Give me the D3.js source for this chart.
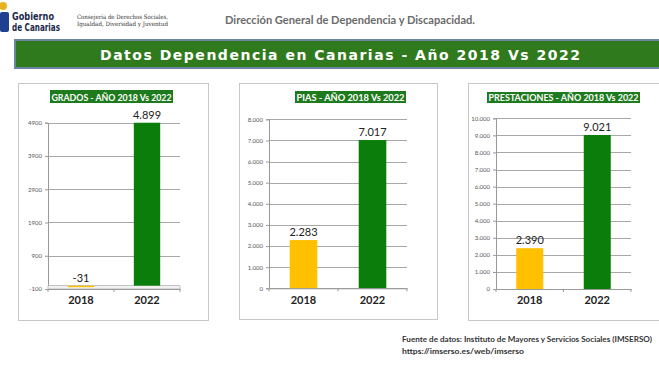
<!DOCTYPE html>
<html>
<head>
<meta charset="utf-8">
<title>Datos Dependencia en Canarias</title>
<script src="https://d3js.org/d3.v7.min.js"></script>
<style>
  body { margin: 0; background: #fff; }
  svg text { font-family: Lato, "Open Sans", sans-serif; }
  .tick text { font-size: 6px; fill: #555; }
  .grid line { stroke: #a8a8a8; stroke-width: 1; }
</style>
</head>
<body>
<script>
// data
var years = ["2018", "2022"];
var grados = [-31, 4899];
var pias = [2283, 7017];
var prestaciones = [2390, 9021];
var gradosTicks = [-100, 900, 1900, 2900, 3900, 4900];
var piasTicks = [0, 1000, 2000, 3000, 4000, 5000, 6000, 7000, 8000];
var prestTicks = [0, 1000, 2000, 3000, 4000, 5000, 6000, 7000, 8000, 9000, 10000];
var panelTitles = ["GRADOS - AÑO 2018 Vs 2022", "PIAS - AÑO 2018 Vs 2022", "PRESTACIONES - AÑO 2018 Vs 2022"];
var barColors = ["#ffc000", "#0a7d0a"];

var svg = d3.select("body").append("svg")
    .attr("width", 659)
    .attr("height", 371);

// es-ES style numbers: 4.899
var dotFmt = function(d) {
  var s = d3.format(",")(d).replace(/,/g, ".");
  return s.replace("−", "-");
};

// --- header ---
var logo = svg.append("g");
logo.append("rect").attr("x", 0).attr("y", 12).attr("width", 9).attr("height", 20).attr("fill", "#1f3f8f").attr("rx", 2);
logo.append("circle").attr("cx", 3).attr("cy", 6).attr("r", 4).attr("fill", "#e8b320");
logo.append("text").attr("x", 12).attr("y", 20).attr("font-size", 10).attr("font-weight", "bold").attr("fill", "#1b2a4a")
    .attr("textLength", 42).attr("lengthAdjust", "spacingAndGlyphs")
    .style("font-family", "'DejaVu Sans', sans-serif").text("Gobierno");
logo.append("text").attr("x", 12).attr("y", 31).attr("font-size", 10).attr("font-weight", "bold").attr("fill", "#1b2a4a")
    .attr("textLength", 48).attr("lengthAdjust", "spacingAndGlyphs")
    .style("font-family", "'DejaVu Sans', sans-serif").text("de Canarias");
svg.append("text").attr("x", 77).attr("y", 19).attr("font-size", 6).attr("fill", "#333")
    .attr("textLength", 91).attr("lengthAdjust", "spacingAndGlyphs")
    .style("font-family", "'DejaVu Serif', serif").text("Consejería de Derechos Sociales,");
svg.append("text").attr("x", 77).attr("y", 26).attr("font-size", 6).attr("fill", "#333")
    .attr("textLength", 91).attr("lengthAdjust", "spacingAndGlyphs")
    .style("font-family", "'DejaVu Serif', serif").text("Igualdad, Diversidad y Juventud");
svg.append("text").attr("x", 225).attr("y", 24).attr("font-size", 10.5).attr("font-weight", "bold").attr("fill", "#6b6b6b")
    .attr("textLength", 250).attr("lengthAdjust", "spacingAndGlyphs")
    .text("Dirección General de Dependencia y Discapacidad.");

// --- banner ---
svg.append("rect").attr("x", 15).attr("y", 40).attr("width", 650).attr("height", 28)
    .attr("fill", "#2f7a1c").attr("stroke", "#6c84a4").attr("stroke-width", 2);
svg.append("text").attr("x", 100).attr("y", 59.5).attr("font-size", 14).attr("font-weight", "bold").attr("fill", "#fff")
    .attr("textLength", 480).attr("lengthAdjust", "spacing")
    .style("font-family", "'DejaVu Sans', sans-serif")
    .text("Datos Dependencia en Canarias - Año 2018 Vs 2022");

// --- panels ---
var panels = [
  { values: grados, ticks: gradosTicks, domain: [-100, 4900], fmt: function(d) { return String(d); },
    box: [18, 83, 208, 320], x: [48, 180], y: [289, 122.7], title: [50, 173, 90, 103], base: -100 },
  { values: pias, ticks: piasTicks, domain: [0, 8000], fmt: dotFmt,
    box: [239, 83, 437, 319], x: [269, 407], y: [288.3, 119.3], title: [295, 406, 91, 103], base: 0 },
  { values: prestaciones, ticks: prestTicks, domain: [0, 10000], fmt: dotFmt,
    box: [468, 83, 663, 320], x: [496, 631], y: [289, 118.3], title: [487, 640, 92, 103], base: 0 }
];

panels.forEach(function(p, k) {
  var g = svg.append("g");
  g.append("rect").attr("x", p.box[0] + 0.5).attr("y", p.box[1] + 0.5)
      .attr("width", p.box[2] - p.box[0]).attr("height", p.box[3] - p.box[1])
      .attr("fill", "#fff").attr("stroke", "#c8c8c8");

  var x = d3.scaleBand().domain(years).range(p.x).paddingInner(0.6).paddingOuter(0.3);
  var y = d3.scaleLinear().domain(p.domain).range(p.y);

  // gridlines
  g.append("g").attr("class", "grid")
    .selectAll("line").data(p.ticks).enter().append("line")
    .attr("x1", p.x[0]).attr("x2", p.x[1])
    .attr("y1", function(d) { return Math.round(y(d)) + 0.5; })
    .attr("y2", function(d) { return Math.round(y(d)) + 0.5; });

  // y axis
  var yAxis = g.append("g").attr("transform", "translate(" + p.x[0] + ",0)")
    .call(d3.axisLeft(y).tickValues(p.ticks).tickSize(3).tickFormat(p.fmt));
  yAxis.select(".domain").attr("stroke", "#999");
  yAxis.selectAll(".tick line").attr("stroke", "#999");

  // grados has a small floor under 0
  if (p.base < 0) {
    g.append("rect").attr("x", p.x[0]).attr("y", y(0)).attr("width", p.x[1] - p.x[0])
      .attr("height", y(p.base) - y(0)).attr("fill", "#f2f2f2").attr("stroke", "#aaa").attr("stroke-width", 0.7);
  }

  // bars
  g.selectAll(".bar").data(p.values).enter().append("rect")
    .attr("x", function(d, i) { return x(years[i]); })
    .attr("width", x.bandwidth())
    .attr("y", function(d) { return y(Math.max(d, 0)); })
    .attr("height", function(d) { return Math.max(Math.abs(y(d) - y(0)), 1.5); })
    .attr("fill", function(d, i) { return barColors[i]; });

  // x axis at base
  var xAxis = g.append("g").attr("transform", "translate(0," + y(p.base) + ")")
    .call(d3.axisBottom(x).tickSize(0).tickFormat(""));
  xAxis.select(".domain").attr("stroke", "#999");
  g.selectAll(".xt").data([p.x[0], (p.x[0] + p.x[1]) / 2, p.x[1]]).enter().append("line")
    .attr("x1", function(d) { return d; }).attr("x2", function(d) { return d; })
    .attr("y1", y(p.base)).attr("y2", y(p.base) + 3).attr("stroke", "#999");

  // category labels
  g.selectAll(".cat").data(years).enter().append("text")
    .attr("x", function(d) { return x(d) + x.bandwidth() / 2; })
    .attr("y", 304).attr("text-anchor", "middle")
    .attr("font-size", 11).attr("font-weight", "bold").attr("fill", "#222")
    .text(function(d) { return d; });

  // value labels
  g.selectAll(".val").data(p.values).enter().append("text")
    .attr("x", function(d, i) { return x(years[i]) + x.bandwidth() / 2; })
    .attr("y", function(d) { return y(Math.max(d, 0)) - 4; })
    .attr("text-anchor", "middle")
    .attr("font-size", 11).attr("fill", "#222")
    .text(function(d) { return dotFmt(d); });

  // panel title
  var t = p.title;
  g.append("rect").attr("x", t[0]).attr("y", t[2]).attr("width", t[1] - t[0]).attr("height", t[3] - t[2])
    .attr("fill", "#1d7a1d");
  g.append("text").attr("x", (t[0] + t[1]) / 2).attr("y", t[3] - 2.5).attr("text-anchor", "middle")
    .attr("font-size", 9).attr("font-weight", "bold").attr("fill", "#fff")
    .attr("textLength", t[1] - t[0] - 3).attr("lengthAdjust", "spacingAndGlyphs")
    .text(panelTitles[k]);
});

// --- source ---
svg.append("text").attr("x", 402).attr("y", 342).attr("font-size", 7.8).attr("font-weight", "bold").attr("fill", "#333")
  .attr("textLength", 250).attr("lengthAdjust", "spacingAndGlyphs")
  .text("Fuente de datos: Instituto de Mayores y Servicios Sociales (IMSERSO)");
svg.append("text").attr("x", 402).attr("y", 354).attr("font-size", 7.8).attr("font-weight", "bold").attr("fill", "#333")
  .attr("textLength", 122).attr("lengthAdjust", "spacingAndGlyphs")
  .text("https://imserso.es/web/imserso");
</script>
</body>
</html>
